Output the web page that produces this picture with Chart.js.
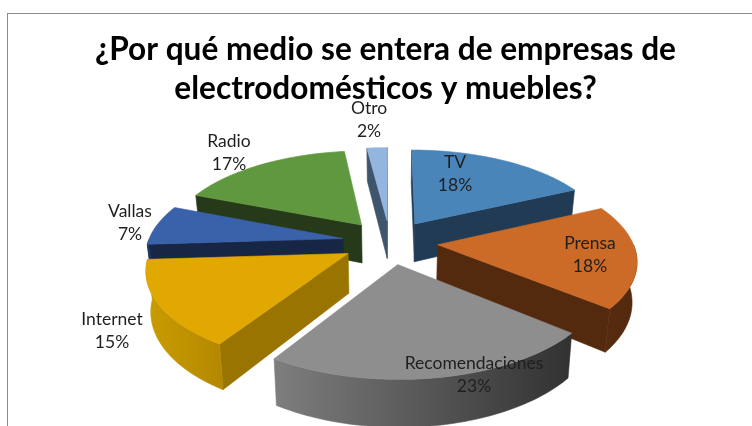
<!DOCTYPE html>
<html lang="es">
<head>
<meta charset="utf-8">
<title>Medios</title>
<script src="https://cdn.jsdelivr.net/npm/chart.js@4"></script>
<style>
    html, body { margin: 0; background: #fff; overflow: hidden; }
    #wrap { position: relative; width: 752px; height: 426px; }
    #frame { position: absolute; left: 7px; top: 13px; right: 0; bottom: 0; border-top: 1px solid #8c8c8c; border-left: 1px solid #8c8c8c; }
    canvas { position: absolute; left: 0; top: 0; }
</style>
</head>
<body>
<div id="wrap">
    <div id="frame"></div>
    <canvas id="mainChart" width="752" height="426"></canvas>
</div>
<script>
const titleLines = ['¿Por qué medio se entera de empresas de', 'electrodomésticos y muebles?'];
const categories = ['TV', 'Prensa', 'Recomendaciones', 'Internet', 'Vallas', 'Radio', 'Otro'];
const percents = [18, 18, 23, 15, 7, 17, 2];

const topColors = ['#4a85ba', '#cc6a27', '#8e8e8e', '#e0a800', '#3a62ab', '#5f983e', '#93b5de'];
const wallColors = ['#213b54', '#542a0f', '#4a4a4a', '#9a7400', '#172644', '#263a19', '#3f546d'];
// rim colour when the rim faces left / faces right
const rimLeft = ['#2c4e6e', '#6e3c14', '#909090', '#c89a00', '#203460', '#2f4a20', '#4c6682'];
const rimRight = ['#213b54', '#542a0f', '#2c2c2c', '#503400', '#172644', '#263a19', '#3f546d'];

// centre of each text block
const labelX = [455, 590, 474, 112, 130, 229, 369];
const labelY = [173, 254, 374, 330, 222, 152, 119];

// look of the tilted pie
const view = { cx: 390, cy: 242, rx: 195, ry: 90, depth: 39, tilt: 0.15, explode: 0.245 };

function project(u, v, z) {
    const s = 1 / (1 - view.tilt * v);
    return {
        x: view.cx + view.rx * u * s * (1 - 0.02 * z),
        y: view.cy + view.ry * v * s + view.depth * z * s
    };
}

function fillPoly(ctx, pts, color) {
    ctx.beginPath();
    pts.forEach((p, i) => i ? ctx.lineTo(p.x, p.y) : ctx.moveTo(p.x, p.y));
    ctx.closePath();
    ctx.fillStyle = color;
    ctx.strokeStyle = color;
    ctx.lineWidth = 0.6;
    ctx.fill();
    ctx.stroke();
}

function polyArea(pts) {
    let sum = 0;
    pts.forEach((p, i) => {
        const q = pts[(i + 1) % pts.length];
        sum += p.x * q.y - q.x * p.y;
    });
    return sum;
}

function drawWall(ctx, a, b, color) {
    const quad = [project(a.u, a.v, 0), project(b.u, b.v, 0), project(b.u, b.v, 1), project(a.u, a.v, 1)];
    if (polyArea(quad) < 0) fillPoly(ctx, quad, color);
}

function drawSlice(ctx, arc, i) {
    const mid = (arc.startAngle + arc.endAngle) / 2;
    const ox = Math.cos(mid) * view.explode;
    const oy = Math.sin(mid) * view.explode;
    const apex = { u: ox, v: oy };

    const rim = [];
    const steps = Math.ceil((arc.endAngle - arc.startAngle) / 0.025);
    for (let s = 0; s <= steps; s++) {
        const a = arc.startAngle + (arc.endAngle - arc.startAngle) * s / steps;
        rim.push({ u: ox + Math.cos(a), v: oy + Math.sin(a), front: Math.sin(a) > 0 });
    }

    drawWall(ctx, apex, rim[0], wallColors[i]);
    drawWall(ctx, rim[rim.length - 1], apex, wallColors[i]);

    // curved outer wall, one polygon with a left to right shade
    const front = rim.filter(p => p.front);
    if (front.length > 1) {
        const pts = [...front.map(p => project(p.u, p.v, 0)), ...front.slice().reverse().map(p => project(p.u, p.v, 1))];
        const shade = ctx.createLinearGradient(project(ox - 1, 0, 0).x, 0, project(ox + 1, 0, 0).x, 0);
        shade.addColorStop(0, rimLeft[i]);
        shade.addColorStop(1, rimRight[i]);
        fillPoly(ctx, pts, shade);
    }

    fillPoly(ctx, [apex, ...rim].map(p => project(p.u, p.v, 0)), topColors[i]);
}

const pie3d = {
    id: 'pie3d',
    beforeDatasetDraw(chart, args) {
        const ctx = chart.ctx;
        const arcs = chart.getDatasetMeta(args.index).data.map((arc, i) => ({ arc, i }));
        // back slices first so the front ones cover their walls
        arcs.sort((a, b) => Math.sin((a.arc.startAngle + a.arc.endAngle) / 2) - Math.sin((b.arc.startAngle + b.arc.endAngle) / 2));
        ctx.save();
        arcs.forEach(({ arc, i }) => drawSlice(ctx, arc, i));

        ctx.font = '17.5px Lato';
        ctx.fillStyle = '#1f1f1f';
        ctx.textAlign = 'center';
        ctx.textBaseline = 'middle';
        percents.forEach((p, i) => {
            ctx.fillText(categories[i], labelX[i], labelY[i] - 11);
            ctx.fillText(p + '%', labelX[i], labelY[i] + 12);
        });
        ctx.restore();
        return false;
    }
};

new Chart(document.getElementById('mainChart'), {
    type: 'pie',
    data: {
        labels: categories,
        datasets: [{ data: percents, backgroundColor: topColors }]
    },
    plugins: [pie3d],
    options: {
        responsive: false,
        animation: false,
        layout: { padding: { left: 19 } },
        plugins: {
            legend: { display: false },
            tooltip: { enabled: false },
            title: {
                display: true,
                text: titleLines,
                color: '#000',
                font: { family: 'Lato', weight: 'bold', size: 31.6, lineHeight: 1.22 },
                padding: { top: 31, bottom: 0 }
            }
        }
    }
});
</script>
</body>
</html>
